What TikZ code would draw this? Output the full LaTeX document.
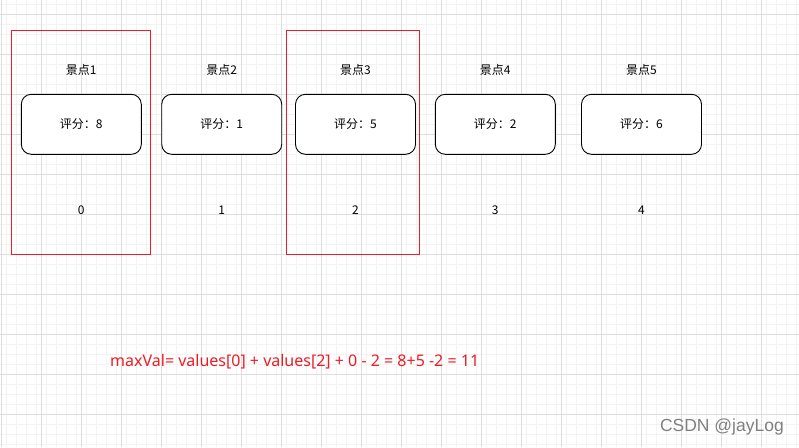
\documentclass[tikz,border=0pt]{standalone}
\usepackage{fontspec}
\setmainfont{Noto Sans CJK SC}
\newfontfamily\markfont{Liberation Sans}
\newfontfamily\formulafont{Noto Sans}
\definecolor{gridminor}{HTML}{F3F3F3}
\definecolor{gridmajor}{HTML}{DDDDDD}
\definecolor{markred}{HTML}{EE1C25}
\tikzset{
  minorline/.style={draw=gridminor, line width=0.8pt},
  majorline/.style={draw=gridmajor, line width=0.8pt},
  markbox/.style={draw=markred, line width=1pt},
  spotbox/.style={draw=black, fill=white, rounded corners=10pt, minimum width=120pt, minimum height=60pt, line width=0.9pt, inner sep=0pt},
  spotlabel/.style={inner sep=0pt, font=\fontsize{12}{14}\selectfont},
  formula/.style={inner sep=0pt, text=markred, font=\formulafont\fontsize{16}{18}\selectfont},
}
\begin{document}
\begin{tikzpicture}[x=1pt, y=-1pt, line cap=rect]
	\useasboundingbox[fill=white] (0,0) rectangle (799,447);
	% background grid
	\foreach \x in {6.3,16.3,...,799}{
		\draw[minorline] (\x,0) -- (\x,447);
	}
	\foreach \y in {4.3,14.3,...,447}{
		\draw[minorline] (0,\y) -- (799,\y);
	}
	\foreach \x in {1.3,41.3,...,799}{
		\draw[majorline] (\x,0) -- (\x,447);
	}
	\foreach \y in {14.3,54.3,...,447}{
		\draw[majorline] (0,\y) -- (799,\y);
	}
	% chosen spots
	\draw[markbox] (11.5,30.5) rectangle (150.5,254.5);
	\draw[markbox] (286.5,30.5) rectangle (419.5,254.5);
	% spots
	\foreach \i/\k/\x/\s in {1/0/81.3/8, 2/1/221.7/1, 3/2/355.5/5, 4/3/495.3/2, 5/4/641.5/6}{
		\node[spotbox, spotlabel] (box\i) at (\x,124.3) {评分：\s};
		\node[spotlabel] (name\i) at (\x,70) {景点\i};
		\node[spotlabel] (idx\i) at (\x,210) {\k};
	}
	\node[formula, anchor=west] (formula) at (110,362) {maxVal= values[0] + values[2] + 0 - 2 = 8+5 -2 = 11};
	\node[inner sep=0pt, anchor=east, text=black!50, font=\markfont\fontsize{17.5}{19}\selectfont] (mark) at (784,427) {CSDN @jayLog};
\end{tikzpicture}
\end{document}
